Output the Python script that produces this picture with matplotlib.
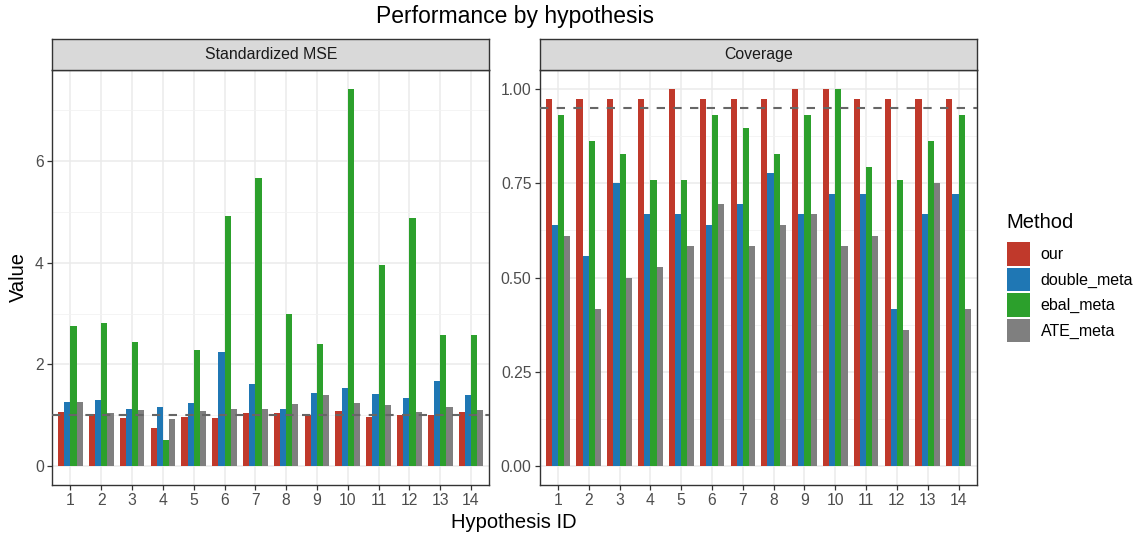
import matplotlib
matplotlib.use('Agg')
import matplotlib.pyplot as plt
from matplotlib.patches import Patch
import numpy as np

plt.rcParams['font.family'] = ['Liberation Sans', 'DejaVu Sans']

# hypothesis ids and methods
hypotheses = np.arange(1, 15)
methods = ['our', 'double_meta', 'ebal_meta', 'ATE_meta']
colors = ['#c0392b', '#1f77b4', '#2ca02c', '#7f7f7f']

# Standardized MSE per method
mse_our = [1.07, 1.03, 0.94, 0.75, 0.96, 0.94, 1.05, 1.04, 1.00, 1.08, 0.96, 1.00, 1.00, 1.06]
mse_double = [1.27, 1.31, 1.12, 1.16, 1.24, 2.24, 1.61, 1.12, 1.44, 1.54, 1.42, 1.34, 1.67, 1.40]
mse_ebal = [2.76, 2.81, 2.44, 0.51, 2.28, 4.91, 5.66, 3.00, 2.41, 7.42, 3.95, 4.89, 2.58, 2.58]
mse_ate = [1.26, 1.05, 1.10, 0.92, 1.08, 1.12, 1.12, 1.22, 1.40, 1.24, 1.20, 1.06, 1.16, 1.10]

# Coverage per method
cov_our = [0.972, 0.972, 0.972, 0.972, 1.0, 0.972, 0.972, 0.972, 1.0, 1.0, 0.972, 0.972, 0.972, 0.972]
cov_double = [0.639, 0.556, 0.750, 0.667, 0.667, 0.639, 0.694, 0.778, 0.667, 0.722, 0.722, 0.417, 0.667, 0.722]
cov_ebal = [0.931, 0.862, 0.828, 0.759, 0.759, 0.931, 0.897, 0.828, 0.931, 1.0, 0.793, 0.759, 0.862, 0.931]
cov_ate = [0.611, 0.417, 0.500, 0.528, 0.583, 0.694, 0.583, 0.639, 0.667, 0.583, 0.611, 0.361, 0.750, 0.417]

mse_ref = 1.0
cov_ref = 0.95

panels = [
    ('Standardized MSE', [mse_our, mse_double, mse_ebal, mse_ate], mse_ref, [0, 2, 4, 6], [1, 3, 5, 7], None),
    ('Coverage', [cov_our, cov_double, cov_ebal, cov_ate], cov_ref,
     [0, 0.25, 0.5, 0.75, 1.0], [0.125, 0.375, 0.625, 0.875], '%.2f'),
]

W, H = 1136, 534
fig = plt.figure(figsize=(W / 100, H / 100), dpi=100)

lefts = [52, 539.5]
width = 437.5
top, bottom = 70, 485
strip_top = 39

bar_w = 0.2
offsets = [-0.3, -0.1, 0.1, 0.3]

for (name, series, ref, major, minor, fmt), left in zip(panels, lefts):
    ax = fig.add_axes([left / W, 1 - bottom / H, width / W, (bottom - top) / H])
    for vals, off, c in zip(series, offsets, colors):
        ax.bar(hypotheses + off, vals, width=bar_w, color=c, linewidth=0, zorder=2)
    ax.axhline(ref, color='#666666', linestyle=(0, (4, 4)), linewidth=1.5, zorder=3)

    vmax = max(max(s) for s in series)
    ax.set_ylim(-0.05 * vmax, 1.05 * vmax)
    ax.set_xlim(0.4, 14.6)
    ax.set_xticks(hypotheses)
    ax.set_yticks(major)
    ax.set_yticks(minor, minor=True)
    if fmt:
        ax.set_yticklabels([fmt % v for v in major])
    ax.grid(True, which='major', color='#ebebeb', linewidth=1.1, zorder=0)
    ax.grid(True, which='minor', axis='y', color='#f2f2f2', linewidth=0.6, zorder=0)
    ax.set_axisbelow(True)
    ax.tick_params(which='major', direction='out', length=3.3, width=0.9, color='#333333',
                   labelcolor='#4d4d4d', labelsize=11.3, pad=2.5)
    ax.tick_params(which='minor', length=0)
    for sp in ax.spines.values():
        sp.set_color('#333333')
        sp.set_linewidth(1.0)

    # facet strip
    sax = fig.add_axes([left / W, 1 - top / H, width / W, (top - strip_top) / H])
    sax.set_facecolor('#d9d9d9')
    sax.set_xticks([])
    sax.set_yticks([])
    for sp in sax.spines.values():
        sp.set_color('#333333')
        sp.set_linewidth(1.0)
    sax.text(0.5, 0.5, name, ha='center', va='center', fontsize=11.4, color='#1a1a1a',
             transform=sax.transAxes)

fig.text(515 / W, 1 - 17 / H, 'Performance by hypothesis', ha='center', va='center', fontsize=16.5)
fig.text(514 / W, 1 - 522 / H, 'Hypothesis ID', ha='center', va='center', fontsize=14.5)
fig.text(18 / W, 1 - 277 / H, 'Value', ha='center', va='center', fontsize=14.5, rotation=90)

# legend: title placed separately to get the ggplot spacing
fig.text(1006 / W, 1 - 223 / H, 'Method', ha='left', va='center', fontsize=14.5)
handles = [Patch(facecolor=c, edgecolor='none') for c in colors]
fig.legend(handles, methods, loc='upper left',
           bbox_to_anchor=(1007 / W, 1 - 242 / H), frameon=False, fontsize=11.5,
           handlelength=1.45, handleheight=1.89,
           handletextpad=0.65, labelspacing=0.125, borderpad=0, borderaxespad=0)

fig.savefig('out.png', dpi=100)
